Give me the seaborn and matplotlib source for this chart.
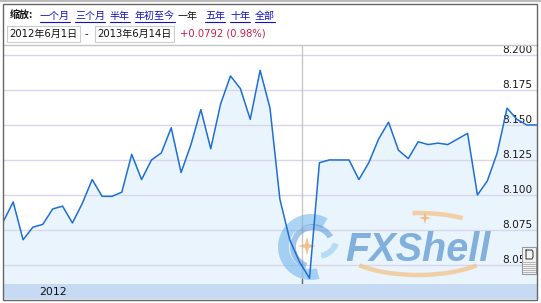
import matplotlib
matplotlib.use("Agg")
import matplotlib.pyplot as plt
import matplotlib.patches as mpatches
import matplotlib.transforms as mtransforms
import matplotlib.lines as mlines
import seaborn as sns
import pandas as pd
import numpy as np

# ---------------- data ----------------
start_date = "2012-06-01"
end_date = "2013-06-14"
rates = [8.081, 8.095, 8.068, 8.077, 8.079, 8.090, 8.092, 8.080, 8.094, 8.111,
         8.099, 8.099, 8.102, 8.129, 8.111, 8.125, 8.130, 8.148, 8.116, 8.136,
         8.161, 8.133, 8.165, 8.185, 8.176, 8.154, 8.189, 8.162, 8.097, 8.068,
         8.052, 8.0405, 8.123, 8.125, 8.125, 8.125, 8.111, 8.123, 8.140, 8.152,
         8.132, 8.126, 8.138, 8.136, 8.137, 8.136, 8.140, 8.144, 8.100, 8.110,
         8.130, 8.162, 8.154, 8.150, 8.150]
y_ticks = [8.050, 8.075, 8.100, 8.125, 8.150, 8.175, 8.200]
y_tick_labels = ["8.050", "8.075", "8.100", "8.125", "8.150", "8.175", "8.200"]
year_label = "2012"
year_boundary = "2012-12-30"
zoom_label = "缩放:"
zoom_links = ["一个月", "三个月", "半年", "年初至今", "一年", "五年", "十年", "全部"]
active_link = "一年"
date_from = "2012年6月1日"
date_to = "2013年6月14日"
change_text = "+0.0792 (0.98%)"
watermark = "FXShell"

dates = pd.date_range(start_date, end_date, freq="7D")
df = pd.DataFrame({"date": dates, "rate": rates})

# ---------------- figure ----------------
W, H = 541, 303
sns.set_theme(style="white")
plt.rcParams["font.family"] = ["DejaVu Sans", "Noto Sans CJK SC"]
fig = plt.figure(figsize=(W / 100, H / 100), dpi=100)
fig.patch.set_facecolor("white")

# pixel transform (y down)
PX = mtransforms.Affine2D().scale(1 / W, -1 / H).translate(0, 1) + fig.transFigure

def fx(x):
    return x / W

def fy(y):
    return 1 - y / H

# main axes
L, R, T, B = 3.3, 536.7, 45, 284
YMIN, YMAX = 8.0364, 8.2071
ax = fig.add_axes([fx(L), fy(B), fx(R) - fx(L), fy(T) - fy(B)])
ax.set_facecolor("white")
ax.set_ylim(YMIN, YMAX)
ax.set_xlim(dates[0], dates[-1])

ax.set_yticks(y_ticks)
ax.set_yticklabels(y_tick_labels)
ax.yaxis.tick_right()
ax.tick_params(axis="y", length=0, pad=-3.2, labelsize=7.6, colors="#1a1a1a")
for lab in ax.get_yticklabels():
    lab.set_horizontalalignment("right")
    lab.set_verticalalignment("bottom")
ax.set_xticks([])
ax.grid(axis="y", color="#d6d6ec", linewidth=1.0)
ax.set_axisbelow(True)
for s in ["left", "right", "bottom"]:
    ax.spines[s].set_visible(False)
ax.spines["top"].set_color("#c4c4c4")
ax.spines["top"].set_linewidth(1.0)

ax.fill_between(df["date"], df["rate"], YMIN, color="#eaf4fd", linewidth=0, zorder=0.2)
ax.axvline(pd.Timestamp(year_boundary), color="#c8c8c8", linewidth=1.0, zorder=0.6)
ax.plot([pd.Timestamp(year_boundary)] * 2, [YMIN, YMIN + 0.0036], color="#666666",
        linewidth=1.0, zorder=0.7)
sns.lineplot(data=df, x="date", y="rate", ax=ax, color="#1d6fd8", linewidth=1.1,
             zorder=5)
ax.set_xlabel("")
ax.set_ylabel("")

# ---------------- watermark (inside axes, under the line) ----------------
wm_blue = "#6fa4d8"
wm_orange = "#f3c386"

def add(p):
    p.set_transform(PX)
    p.set_clip_on(False)
    ax.add_artist(p)

add(mpatches.Wedge((311, 247), 33, 75, 300, width=11, facecolor="#6ab4ea",
                   edgecolor="none", alpha=0.55, zorder=1))
add(mpatches.Wedge((313, 247), 23, 110, 330, width=6, facecolor="#4a8fd6",
                   edgecolor="none", alpha=0.5, zorder=1))
add(mpatches.Wedge((318, 237), 22, 20, 80, width=6, facecolor="#8ccaf0",
                   edgecolor="none", alpha=0.55, zorder=1))

def star(cx, cy, r):
    pts = []
    for k in range(8):
        ang = np.pi / 4 * k
        rr = r if k % 2 == 0 else r * 0.3
        pts.append((cx + rr * np.cos(ang), cy + rr * np.sin(ang)))
    return mpatches.Polygon(pts, closed=True, facecolor="#f0b070",
                            edgecolor="none", alpha=0.8, zorder=1.2)

add(star(307, 246, 9))
add(star(425, 218, 6))
add(mpatches.Arc((418, 244), 162, 62, theta1=20, theta2=160, color=wm_orange,
                 linewidth=3.2, alpha=0.75, zorder=1))
add(mpatches.Arc((418, 244), 162, 62, theta1=260, theta2=330, color=wm_orange,
                 linewidth=3.2, alpha=0.75, zorder=1))
wt = ax.text(345, 250, watermark, transform=PX, fontsize=28.5, fontweight="bold",
             fontstyle="italic", family=["Liberation Sans"], color=wm_blue,
             ha="left", va="center", alpha=0.85, zorder=1.3, clip_on=False)

# bottom band
band = fig.add_axes([fx(L), fy(299), fx(R) - fx(L), fy(284) - fy(299)])
band.set_facecolor("#c6daf4")
band.set_xlim(dates[0], dates[-1])
band.set_ylim(0, 1)
band.set_xticks([])
band.set_yticks([])
for s in band.spines.values():
    s.set_visible(False)
band.text(0.093, 0.45, year_label, transform=band.transAxes, ha="center",
          va="center", fontsize=7.8, color="#111111")

# small widget at the right (drawn as graphics)
fig.add_artist(mpatches.Rectangle((522, 247), 14, 27, transform=PX, facecolor="#f4f4f4",
                                  edgecolor="#999999", linewidth=0.8, zorder=6))
for yy in range(262, 274, 2):
    fig.add_artist(mlines.Line2D([523, 535], [yy, yy], transform=PX, color="#aaaaaa",
                                 linewidth=0.6, zorder=7))
fig.add_artist(mlines.Line2D([526, 526, 532, 533, 533, 532, 526],
                             [250, 259, 259, 257, 252, 250, 250], transform=PX,
                             color="#444444", linewidth=0.8, zorder=7))

# ---------------- header ----------------
fs = 7.2
row1 = 16
fig.text(fx(10), fy(row1), zoom_label, fontsize=fs, fontweight="bold",
         family=["Noto Sans CJK SC", "DejaVu Sans"], ha="left", va="center",
         color="#111111")
link_x = [40, 75, 110, 135, 178, 205, 230, 255]
texts = []
for lx, name in zip(link_x, zoom_links):
    col = "#111111" if name == active_link else "#1010c8"
    tt = fig.text(fx(lx), fy(row1), name, fontsize=fs,
                  family=["Noto Sans CJK SC", "DejaVu Sans"], ha="left",
                  va="center", color=col)
    texts.append((tt, name != active_link))

row2 = 34
fig.add_artist(mpatches.Rectangle((7, 26), 73, 16, transform=PX, facecolor="white",
                                  edgecolor="#cccccc", linewidth=0.8))
fig.add_artist(mpatches.Rectangle((95, 26), 79, 16, transform=PX, facecolor="white",
                                  edgecolor="#cccccc", linewidth=0.8))
fig.text(fx(9), fy(row2), date_from, fontsize=fs, ha="left", va="center", color="#111111")
fig.text(fx(85), fy(row2), "-", fontsize=fs, ha="left", va="center", color="#111111")
fig.text(fx(97), fy(row2), date_to, fontsize=fs, ha="left", va="center", color="#111111")
fig.text(fx(180), fy(row2), change_text, fontsize=fs, ha="left", va="center",
         color="#c8224e")

# outer border
fig.add_artist(mpatches.Rectangle((3, 4), 534, 296, transform=PX, facecolor="none",
                                  edgecolor="#666666", linewidth=1.0, zorder=10))
fig.add_artist(mlines.Line2D([0, W], [1, 1], transform=PX, color="#bbbbbb",
                             linewidth=1.5, zorder=10))

# underlines for links
fig.canvas.draw()
r = fig.canvas.get_renderer()
for tt, ul in texts:
    if not ul:
        continue
    bb = tt.get_window_extent(r)
    yline = H - bb.y0 + 0.5
    fig.add_artist(mlines.Line2D([bb.x0, bb.x1], [yline, yline], transform=PX,
                                 color="#1010c8", linewidth=0.8))

fig.savefig("out.png", dpi=100)
